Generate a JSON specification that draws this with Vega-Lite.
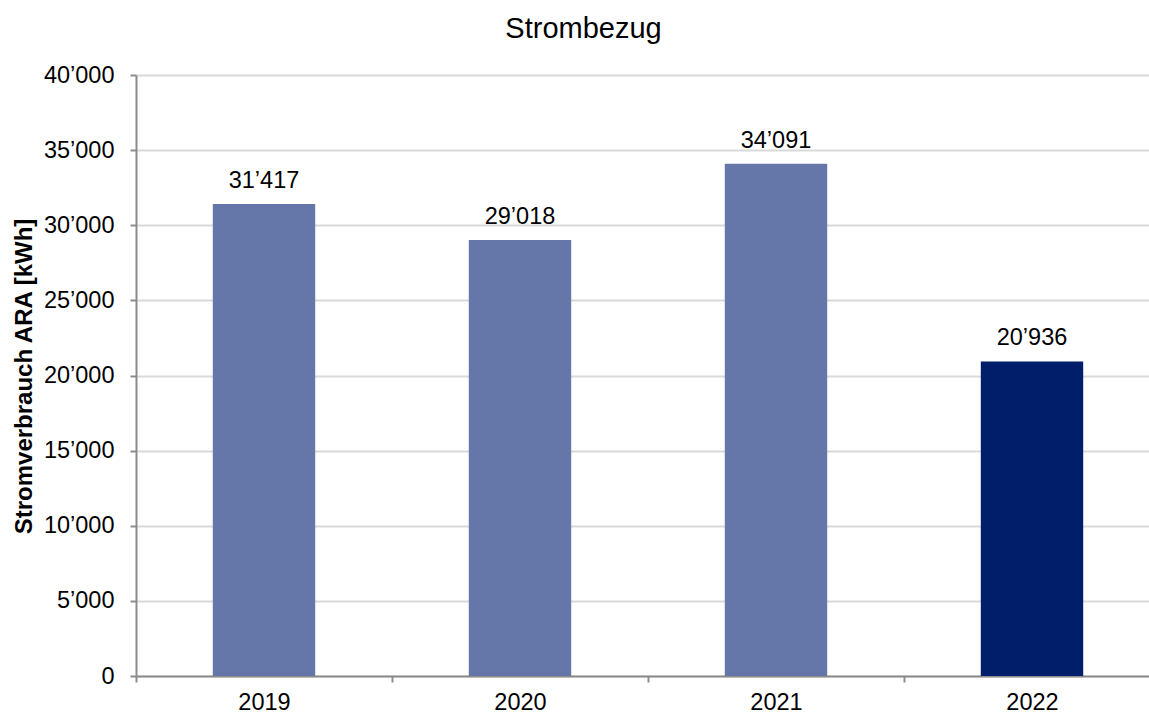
{
  "$schema": "https://vega.github.io/schema/vega-lite/v6.json",
  "autosize": {"type": "none"},
  "padding": {"left": 136, "top": 75, "right": 0, "bottom": 37},
  "width": 1013,
  "height": 601,
  "background": "white",
  "config": {
    "locale": {"number": {"decimal": ".", "thousands": "’", "grouping": [3], "currency": ["", ""]}},
    "font": "Liberation Sans",
    "view": {"stroke": null}
  },
  "title": {"text": "Strombezug", "fontSize": 29, "font": "Liberation Sans", "fontWeight": "normal", "color": "black", "anchor": "middle", "offset": 19, "dx": -59, "frame": "group"},
  "data": {"values": [
    {"Jahr": "2019", "kWh": 31417},
    {"Jahr": "2020", "kWh": 29018},
    {"Jahr": "2021", "kWh": 34091},
    {"Jahr": "2022", "kWh": 20936}
  ]},
  "encoding": {
    "x": {"field": "Jahr", "type": "nominal", "sort": null,
      "scale": {"paddingInner": 0, "paddingOuter": 0, "range": [0, 1024]},
      "axis": {"title": null, "labelAngle": 0, "labelFontSize": 23.5, "labelColor": "black", "labelPadding": 8,
        "tickBand": "extent", "tickSize": 6, "tickColor": "#8c8c8c", "tickWidth": 2,
        "domainColor": "#8c8c8c", "domainWidth": 2, "grid": false}},
    "y": {"field": "kWh", "type": "quantitative",
      "scale": {"domain": [0, 40000], "nice": false},
      "axis": {"values": [0, 5000, 10000, 15000, 20000, 25000, 30000, 35000, 40000], "format": ",d",
        "title": "Stromverbrauch ARA [kWh]", "titleFontSize": 24, "titleFontWeight": "bold", "titleColor": "black",
        "titleX": -105, "titleY": 301, "titleBaseline": "alphabetic",
        "labelFontSize": 23.5, "labelColor": "black", "labelPadding": 16,
        "tickSize": 6, "tickColor": "#8c8c8c", "tickWidth": 2,
        "domainColor": "#8c8c8c", "domainWidth": 2,
        "grid": true, "gridColor": "#d9d9d9", "gridWidth": 2}}
  },
  "layer": [
    {"mark": {"type": "bar", "width": {"band": 0.4}},
      "encoding": {"color": {"field": "Jahr", "type": "nominal",
        "scale": {"domain": ["2019", "2020", "2021", "2022"], "range": ["#6577a8", "#6577a8", "#6577a8", "#001e69"]},
        "legend": null}}},
    {"mark": {"type": "text", "baseline": "alphabetic", "dy": -16, "fontSize": 23.5, "color": "black"},
      "encoding": {"text": {"field": "kWh", "type": "quantitative", "format": ",d"}}}
  ]
}
